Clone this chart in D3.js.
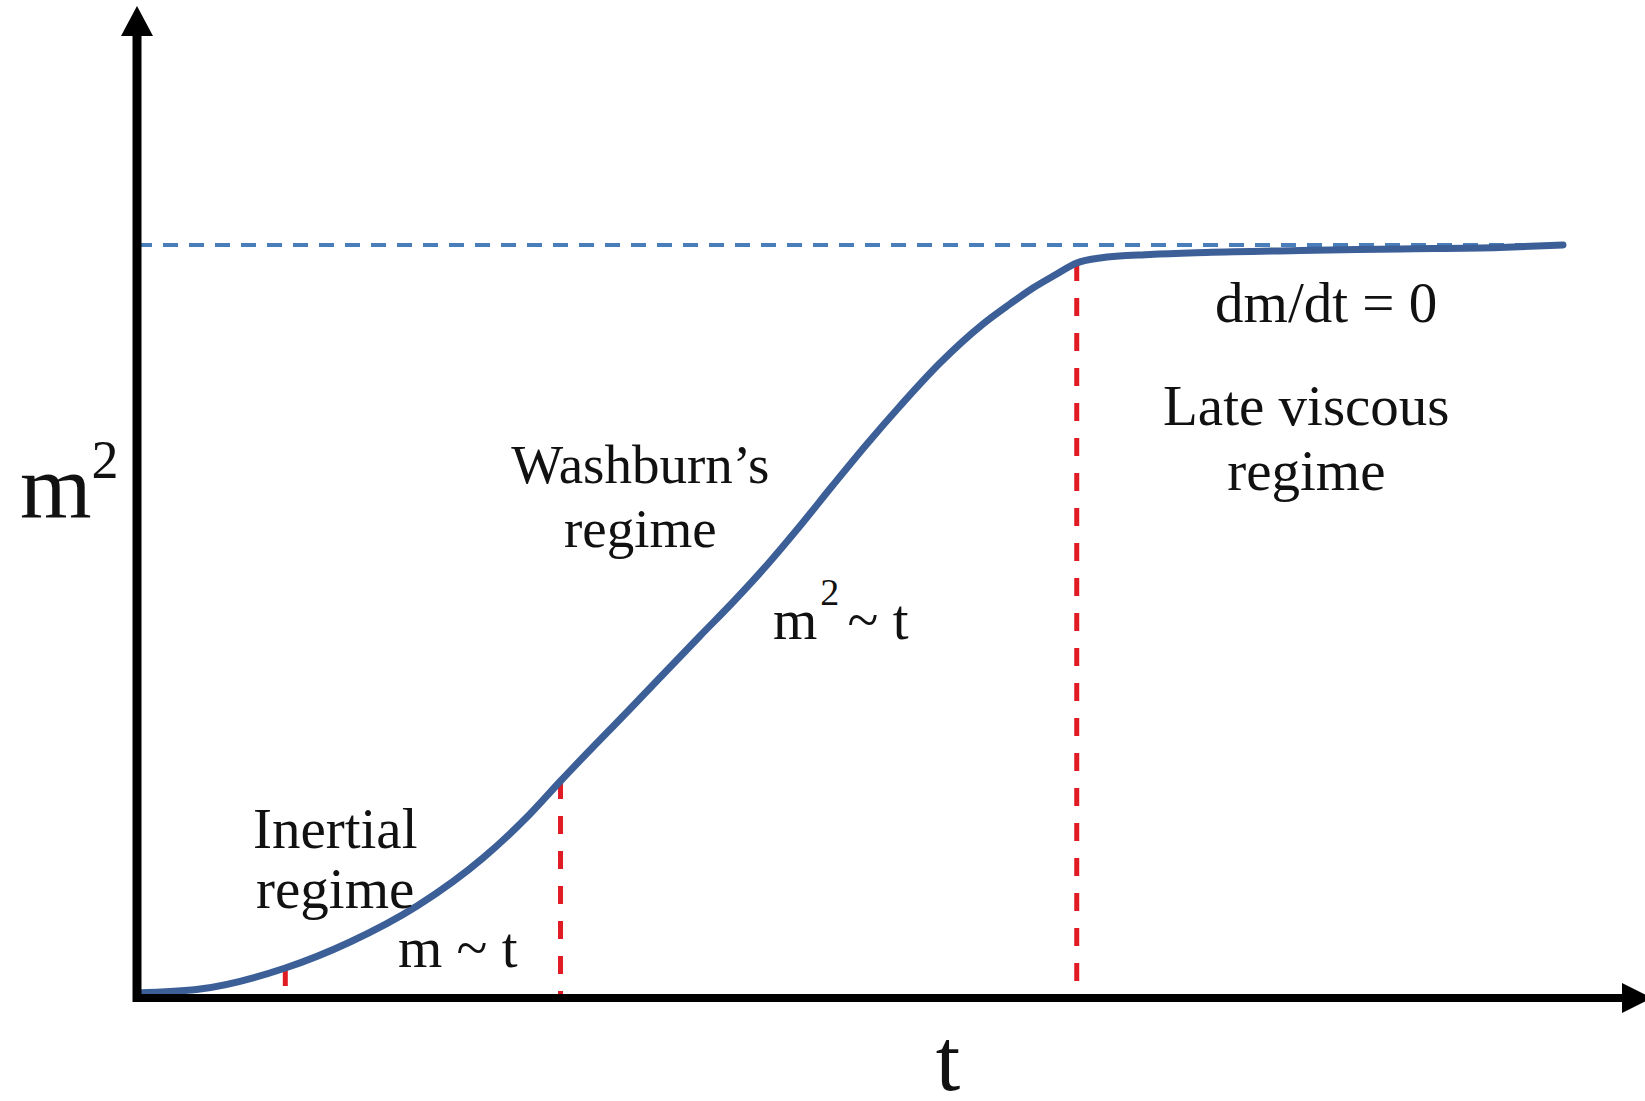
<!DOCTYPE html>
<html>
<head>
<meta charset="utf-8">
<script src="https://cdn.jsdelivr.net/npm/d3@7"></script>
<style>
  body { margin: 0; background: #fff; }
  svg { display: block; }
  .lbl { font-family: "Liberation Serif", "Times New Roman", serif; fill: #111; }
</style>
</head>
<body>
<div id="chart"></div>
<script>
// curve of m^2 against t, both in % of full scale
var tValues  = [0, 4.42, 10.4, 14.94, 19.64, 24.26, 27.56, 29.7, 34.57, 39.48, 41.8, 44.18, 46.49, 48.81, 51.19, 53.51, 56.31, 59.33, 61.22, 62.83, 64.38, 65.9, 67.53, 71.04, 74.96, 81.56, 88.57, 95.58, 100];
var m2Values = [0, 0.53, 3.34, 6.82, 11.63, 18.05, 23.93, 28.34, 37.97, 47.73, 52.27, 57.22, 62.43, 67.91, 73.4, 78.48, 84.22, 89.44, 92.11, 94.25, 95.99, 97.59, 98.26, 98.73, 99.0, 99.26, 99.47, 99.67, 100];

// regime boundaries (t values of the red dashed lines)
var boundaries = [10.4, 29.7, 65.9];

// saturation level of m^2
var plateau = 100;

// region labels: text lines, centre t, m2 of each baseline
var regimeText = [["Inertial", "regime"], ["Washburn\u2019s", "regime"], ["Late viscous", "regime"]];
var regimeT = [13.9, 35.3, 82.0];
var regimeM2 = [[19.4, 11.4], [68.2, 59.6], [75.9, 67.2]];

// scaling laws: left t, baseline m2
var lawBase = ["m", "m", "dm/dt = 0"];
var lawSup = ["", "2", ""];
var lawRest = [" ~ t", " ~ t", ""];
var lawT = [18.3, 44.6, 75.6];
var lawM2 = [3.5, 47.3, 89.7];

var width = 1645;
var height = 1101;

var svg = d3.select("#chart")
  .append("svg")
  .attr("width", width)
  .attr("height", height);

// scales
var x = d3.scaleLinear().domain([0, 100]).range([137, 1563]);
var y = d3.scaleLinear().domain([0, 100]).range([993, 245]);

var axisY = y(0) + 5;
var axisX = x(0);

// dashed plateau line
svg.append("line")
  .attr("x1", axisX)
  .attr("x2", x(100))
  .attr("y1", y(plateau))
  .attr("y2", y(plateau))
  .attr("stroke", "#4a7ebb")
  .attr("stroke-width", 4)
  .attr("stroke-dasharray", "15 11");

// value of the curve at a boundary
function m2At(t) {
  var i = d3.bisectLeft(tValues, t);
  if (tValues[i] === t) return m2Values[i];
  var a = i - 1;
  var f = (t - tValues[a]) / (tValues[i] - tValues[a]);
  return m2Values[a] + f * (m2Values[i] - m2Values[a]);
}

// red regime boundaries, from the curve down to the axis
svg.selectAll(".bound")
  .data(boundaries)
  .enter()
  .append("line")
  .attr("class", "bound")
  .attr("x1", function(d) { return x(d); })
  .attr("x2", function(d) { return x(d); })
  .attr("y1", function(d) { return y(m2At(d)); })
  .attr("y2", axisY)
  .attr("stroke", "#e01b24")
  .attr("stroke-width", 5)
  .attr("stroke-dasharray", "18 17");

// the curve
var pts = tValues.map(function(t, i) { return [t, m2Values[i]]; });
var line = d3.line()
  .x(function(d) { return x(d[0]); })
  .y(function(d) { return y(d[1]); })
  .curve(d3.curveMonotoneX);

svg.append("path")
  .datum(pts)
  .attr("d", line)
  .attr("fill", "none")
  .attr("stroke", "#3c5f98")
  .attr("stroke-width", 7)
  .attr("stroke-linecap", "round");

// axes with arrow heads
svg.append("line")
  .attr("x1", axisX).attr("x2", axisX)
  .attr("y1", axisY + 4).attr("y2", 30)
  .attr("stroke", "#000").attr("stroke-width", 9);
svg.append("path")
  .attr("d", "M" + axisX + ",6 L" + (axisX - 16) + ",36 L" + (axisX + 16) + ",36 Z")
  .attr("fill", "#000");

svg.append("line")
  .attr("x1", axisX - 4).attr("x2", 1628)
  .attr("y1", axisY).attr("y2", axisY)
  .attr("stroke", "#000").attr("stroke-width", 8);
svg.append("path")
  .attr("d", "M1652," + axisY + " L1622," + (axisY - 15) + " L1622," + (axisY + 15) + " Z")
  .attr("fill", "#000");

// axis titles
var yTitle = svg.append("text")
  .attr("class", "lbl")
  .attr("x", 20)
  .attr("y", 518)
  .style("font-size", "92px");
yTitle.append("tspan").text("m");
yTitle.append("tspan")
  .attr("dy", -40)
  .style("font-size", "54px")
  .text("2");

svg.append("text")
  .attr("class", "lbl")
  .attr("x", 948)
  .attr("y", 1090)
  .attr("text-anchor", "middle")
  .style("font-size", "88px")
  .text("t");

// regime labels
regimeText.forEach(function(lines, i) {
  lines.forEach(function(txt, j) {
    svg.append("text")
      .attr("class", "lbl")
      .attr("x", x(regimeT[i]))
      .attr("y", y(regimeM2[i][j]))
      .attr("text-anchor", "middle")
      .style("font-size", i === 1 ? "55px" : "57px")
      .text(txt);
  });
});

// scaling laws
lawBase.forEach(function(b, i) {
  var t = svg.append("text")
    .attr("class", "lbl")
    .attr("x", x(lawT[i]))
    .attr("y", y(lawM2[i]))
    .style("font-size", "57px");
  t.append("tspan").text(b);
  if (lawSup[i]) {
    t.append("tspan").attr("dx", 3).attr("dy", -34).style("font-size", "38px").text(lawSup[i]);
    t.append("tspan").attr("dx", -6).attr("dy", 34).text(lawRest[i]);
  } else if (lawRest[i]) {
    t.append("tspan").text(lawRest[i]);
  }
});
</script>
</body>
</html>
